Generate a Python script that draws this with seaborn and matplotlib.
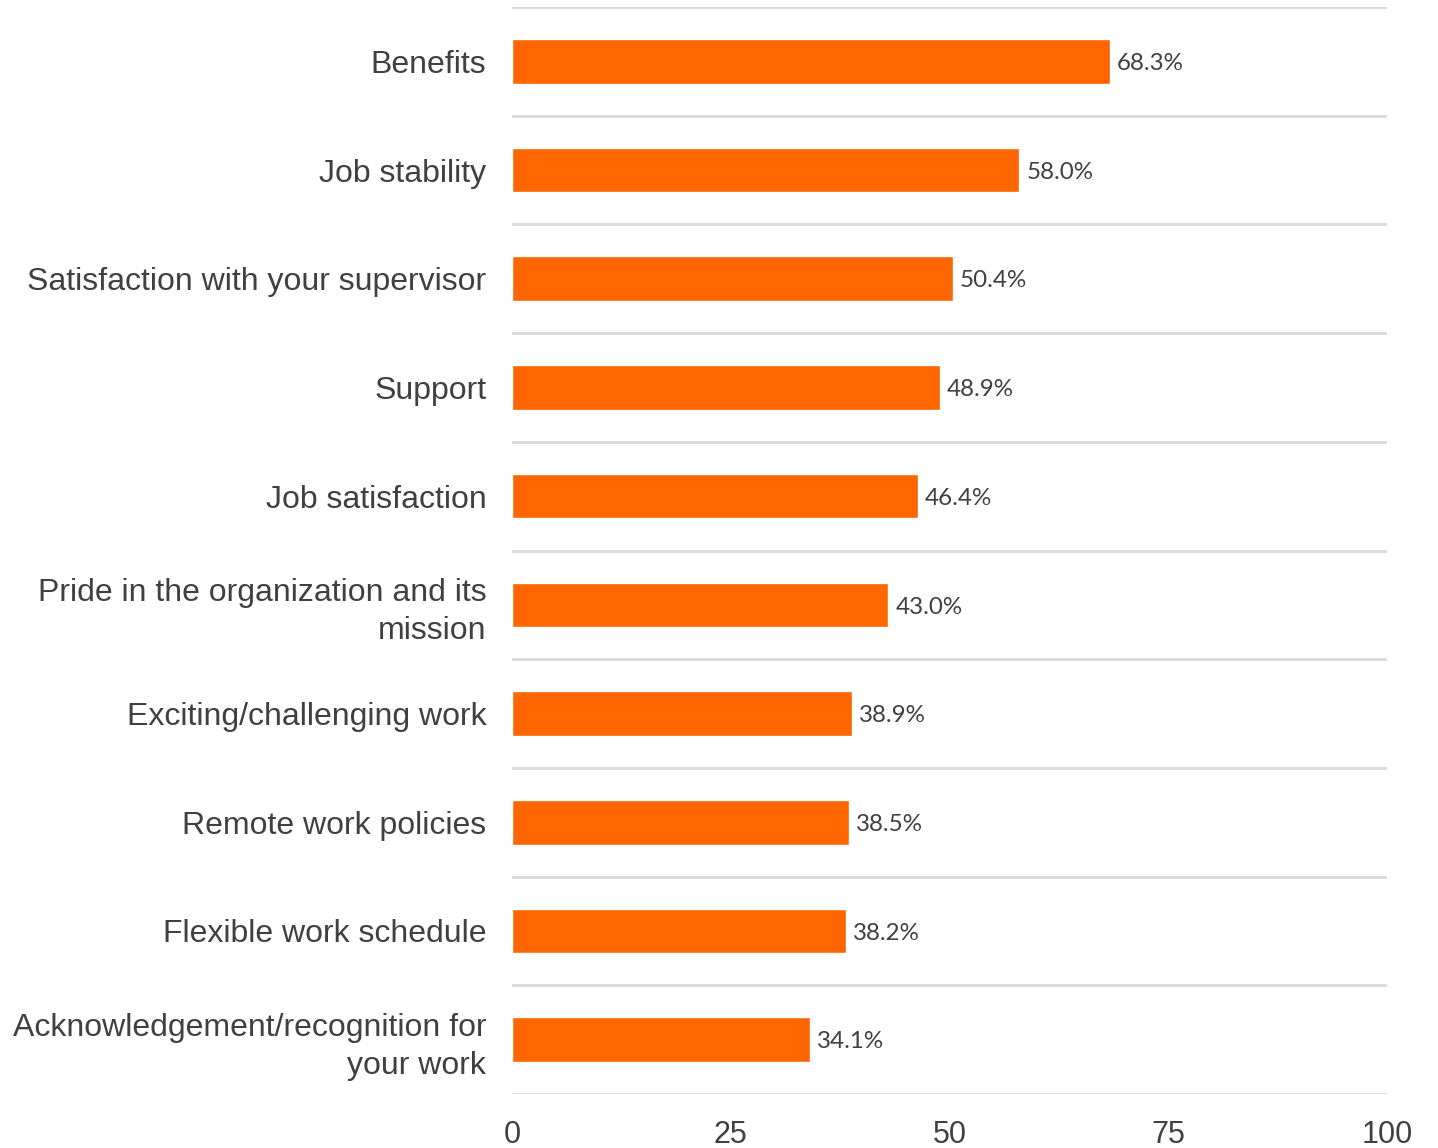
import matplotlib
matplotlib.use("Agg")
import matplotlib.pyplot as plt
import seaborn as sns
import pandas as pd
import numpy as np

categories = [
    "Benefits",
    "Job stability",
    "Satisfaction with your supervisor",
    "Support",
    "Job satisfaction",
    "Pride in the organization and its\nmission",
    "Exciting/challenging work",
    "Remote work policies",
    "Flexible work schedule",
    "Acknowledgement/recognition for\nyour work",
]
values = [68.3, 58.0, 50.4, 48.9, 46.4, 43.0, 38.9, 38.5, 38.2, 34.1]
x_ticks = [0, 25, 50, 75, 100]

df = pd.DataFrame({"category": categories, "value": values})

sns.set_theme(style="white")
plt.rcParams["font.family"] = ["Liberation Sans", "DejaVu Sans"]

fig = plt.figure(figsize=(14.38, 11.48), dpi=100)
ax = fig.add_axes([512 / 1438, 1 - 1094 / 1148, (1387 - 512) / 1438, (1094 - 7) / 1148])

sns.barplot(data=df, x="value", y="category", color="#FF6600", saturation=1,
            width=0.41, orient="h", ax=ax)

ax.set_xlim(0, 100)
ax.set_ylim(len(categories) - 0.5, -0.5)
ax.set_xticks(x_ticks)
ax.set_xticklabels([str(t) for t in x_ticks], fontsize=22, color="#404040")
ax.tick_params(axis="x", length=0, pad=19)
ax.tick_params(axis="y", length=0, pad=18.5)
for lab in ax.get_yticklabels():
    lab.set_fontsize(23)
    lab.set_color("#404040")
    lab.set_linespacing(1.32)
ax.set_xlabel("")
ax.set_ylabel("")

# separators between categories
ax.set_yticks(np.arange(-0.5, len(categories), 1.0), minor=True)
ax.grid(False)
ax.yaxis.grid(True, which="minor", color="#D9D9D9", linewidth=2)
ax.tick_params(axis="y", which="minor", length=0)
for s in ax.spines.values():
    s.set_visible(False)

for i, v in enumerate(values):
    ax.text(v + 0.8, i + 0.02, f"{v:.1f}%", va="center", ha="left", fontsize=17.4,
            color="#404040", family=["Lato", "DejaVu Sans"])

fig.savefig("out.png", dpi=100, facecolor="white")
